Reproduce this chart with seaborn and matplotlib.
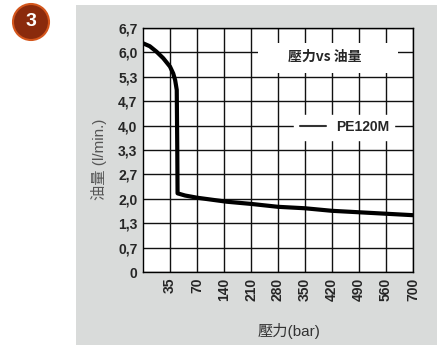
import matplotlib
matplotlib.use("Agg")
import matplotlib.pyplot as plt
import seaborn as sns
import pandas as pd
from matplotlib.lines import Line2D
from matplotlib.patches import Rectangle, Ellipse

# curve (x in tick-slot units, flow in l/min)
slot_pos = [0.0, 0.25, 0.5, 0.75, 1.0, 1.12, 1.19, 1.25, 1.27, 1.27, 1.28,
            1.56, 2.0, 3.1, 4.0, 5.0, 6.0, 7.0, 8.0, 9.0, 10.0]
flow = [6.28, 6.2, 6.05, 5.87, 5.64, 5.45, 5.27, 5.0, 4.0, 2.6, 2.16,
        2.1, 2.04, 1.93, 1.87, 1.79, 1.75, 1.68, 1.64, 1.6, 1.56]

x_labels = ["35", "70", "140", "210", "280", "350", "420", "490", "560", "700"]
y_labels = ["0", "0,7", "1,3", "2,0", "2,7", "3,3", "4,0", "4,7", "5,3", "6,0", "6,7"]
series_name = "PE120M"
chart_title = "壓力vs 油量"

sns.set_style("white")
plt.rcParams["font.family"] = ["Liberation Sans", "Noto Sans CJK TC", "DejaVu Sans"]

fig = plt.figure(figsize=(4.44, 3.47), dpi=100)

# grey panel behind the chart
fig.patches.append(Rectangle((76 / 444, 2 / 347), 361 / 444, 340 / 347,
                             transform=fig.transFigure, facecolor="#d9dbda",
                             edgecolor="none", zorder=-1))
# number badge
fig.patches.append(Ellipse((31 / 444, 1 - 22 / 347), 36 / 444, 36 / 347, transform=fig.transFigure,
                           facecolor="#8a2a0c", edgecolor="#d4561c", linewidth=1.5, zorder=1))
fig.text(31 / 444, 1 - 22 / 347, "3", color="white", fontsize=14, fontweight="bold",
         ha="center", va="center")

ax = fig.add_axes([143 / 444, 75 / 347, 270 / 444, 244 / 347])
ax.set_zorder(2)
ax.set_facecolor("white")

df = pd.DataFrame({"pos": slot_pos, "flow": flow})
sns.lineplot(data=df, x="pos", y="flow", sort=False, color="black", linewidth=3,
             ax=ax, zorder=3)

ax.set_xlim(0, 10)
ax.set_ylim(0, 6.7)
ax.set_xticks(range(1, 11))
ax.set_xticklabels(x_labels, rotation=90, fontweight="bold", fontsize=10)
yt = [i * 6.7 / 10 for i in range(11)]
ax.set_yticks(yt)
ax.set_yticklabels(y_labels, fontweight="bold", fontsize=10)
ax.tick_params(length=0, pad=4)
ax.grid(True, color="#111111", linewidth=1)
for s in ax.spines.values():
    s.set_color("black")
    s.set_linewidth(1)

ax.set_ylabel("油量 (l/min.)", color="#555555", fontsize=11, labelpad=8)
ax.set_xlabel("壓力(bar)", color="#333333", fontsize=11)
ax.xaxis.set_label_coords(0.54, -0.21)
ax.yaxis.set_label_coords(-0.135, 0.46)

# title box
ax.add_patch(Rectangle(((258 - 143) / 270, (272 - 73) / 244), 140 / 270, 30 / 244,
                       transform=ax.transAxes, facecolor="white", edgecolor="none", zorder=2.5))
ax.text(0.674, 0.881, chart_title, transform=ax.transAxes, ha="center", va="center",
        fontsize=10, fontweight="bold", zorder=4,
        family=["Noto Sans CJK TC", "DejaVu Sans"])

# legend
handle = Line2D([], [], color="#333333", linewidth=1.5)
leg = ax.legend([handle], [series_name], loc="center", bbox_to_anchor=(0.745, 0.594),
                frameon=True, fancybox=False, handlelength=1.9, handletextpad=0.7,
                prop=dict(weight="bold", size=10))
leg.get_frame().set_edgecolor("white")
leg.get_frame().set_facecolor("white")
leg.get_frame().set_alpha(1)

fig.savefig("out.png", dpi=100)
